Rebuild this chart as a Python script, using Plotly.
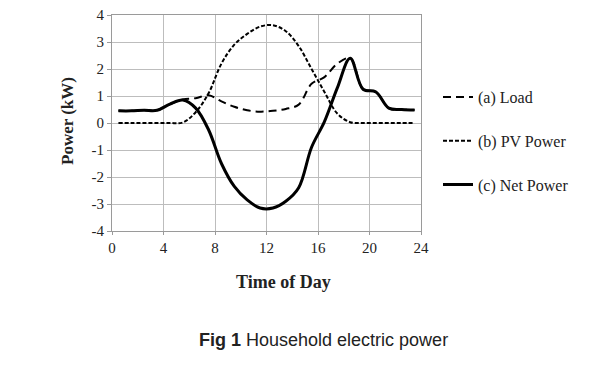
import plotly.graph_objects as go

hours = [0.5, 1.5, 2.5, 3.5, 4.5, 5.5, 6.5, 7.5, 8.5, 9.5, 10.5, 11.5,
         12.5, 13.5, 14.5, 15.5, 16.5, 17.5, 18.5, 19.5, 20.5, 21.5, 22.5, 23.5]
load = [0.45, 0.45, 0.47, 0.47, 0.7, 0.87, 0.92, 1.03, 0.8, 0.6, 0.47, 0.42,
        0.45, 0.52, 0.68, 1.45, 1.7, 2.2, 2.4, 1.25, 1.15, 0.55, 0.5, 0.48]
pv = [0, 0, 0, 0, 0, 0.02, 0.4, 1.1, 2.2, 2.9, 3.3, 3.57,
      3.62, 3.4, 2.85, 2.0, 1.15, 0.35, 0.03, 0, 0, 0, 0, 0]
net = [0.45, 0.45, 0.47, 0.47, 0.7, 0.85, 0.55, -0.25, -1.5, -2.35, -2.85, -3.15,
       -3.15, -2.9, -2.4, -0.9, 0.05, 1.3, 2.4, 1.25, 1.15, 0.55, 0.5, 0.48]
x_ticks = [0, 4, 8, 12, 16, 20, 24]
y_ticks = [-4, -3, -2, -1, 0, 1, 2, 3, 4]
y_tick_text = ["-4", "-3", "-2", "-1", "0", "1", "2", "3", "4"]

serif = "Liberation Serif"
OFF = 8  # page body margin offset
W, H = 600, 379
L = 112 - OFF
T = 15 - OFF
R = W - (421 - OFF)
B = H - (231 - OFF)
pw = W - L - R
ph = H - T - B


def px(x):
    return (x - OFF - L) / pw


def py(y):
    return (H - B - (y - OFF)) / ph


fig = go.Figure()
fig.add_trace(go.Scatter(x=hours, y=load, name="(a) Load", mode="lines",
                         line=dict(color="black", width=2, dash="8px,5px", shape="spline", smoothing=1),
                         legendgroup="a"))
fig.add_trace(go.Scatter(x=hours, y=pv, name="(b) PV Power", mode="lines",
                         line=dict(color="black", width=2, dash="4px,2px", shape="spline", smoothing=1),
                         legendgroup="b"))
fig.add_trace(go.Scatter(x=hours, y=net, name="(c) Net Power", mode="lines",
                         line=dict(color="black", width=3, shape="spline", smoothing=1),
                         legendgroup="c"))

fig.update_layout(
    width=W, height=H,
    margin=dict(l=L, r=R, t=T, b=B, autoexpand=False),
    paper_bgcolor="white", plot_bgcolor="white",
    font=dict(family=serif, size=15, color="#222"),
    showlegend=True,
    legend=dict(x=px(438), y=py(80), xanchor="left", yanchor="top",
                font=dict(family=serif, size=16, color="#222"),
                tracegroupgap=20, bgcolor="rgba(0,0,0,0)"),
    xaxis=dict(range=[0, 24], tickvals=x_ticks, showgrid=True, gridcolor="#bdbdbd",
               gridwidth=1, showline=True, linecolor="#9a9a9a", mirror=True,
               ticks="outside", ticklen=3, tickcolor="#9a9a9a", zeroline=False,
               ticklabeloverflow="allow",
               tickfont=dict(family=serif, size=15, color="#222")),
    yaxis=dict(range=[-4, 4], tickvals=y_ticks, ticktext=y_tick_text, showgrid=True,
               gridcolor="#bdbdbd", gridwidth=1, showline=True, linecolor="#9a9a9a",
               mirror=True, ticks="outside", ticklen=4, tickcolor="#9a9a9a", zeroline=False,
               ticklabeloverflow="allow",
               tickfont=dict(family=serif, size=15, color="#222")),
    annotations=[
        dict(text="<b>Time of Day</b>", x=px(283), y=py(282), xref="paper", yref="paper",
             xanchor="center", yanchor="middle", showarrow=False,
             font=dict(family=serif, size=18, color="#222")),
        dict(text="<b>Power (kW)</b>", x=px(68), y=py(121), xref="paper", yref="paper",
             xanchor="center", yanchor="middle", textangle=-90, showarrow=False,
             font=dict(family=serif, size=17, color="#222")),
        dict(text="<b>Fig 1</b> Household electric power", x=px(323), y=py(340),
             xref="paper", yref="paper", xanchor="center", yanchor="middle",
             showarrow=False, font=dict(family="Liberation Sans", size=18, color="#222")),
    ],
)

fig.write_html("out.html")
